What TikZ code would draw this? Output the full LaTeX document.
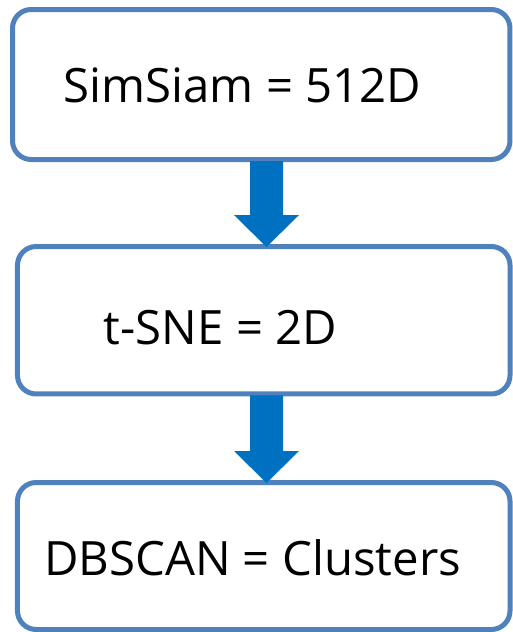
\documentclass[tikz,border=0pt]{standalone}
\usepackage{fontspec}
\setmainfont{Open Sans}
\usetikzlibrary{calc}

\definecolor{boxblue}{RGB}{79,129,189}
\definecolor{flowblue}{RGB}{0,112,192}

\tikzset{
  stage/.style={draw=boxblue, line width=3.75pt, fill=white, rounded corners=14pt,
                inner sep=0pt},
  lbl/.style={anchor=base, inner sep=0pt, font=\fontsize{35.5}{40}\selectfont},
  flow/.style={fill=flowblue}
}

\begin{document}
\begin{tikzpicture}[x=0.75pt, y=-0.75pt]
  \useasboundingbox (0,0) rectangle (512,632);
  % the three stages
  \node[stage, minimum width=373.1pt, minimum height=112.5pt] (b1) at (261.25,84.5) {};
  \node[stage, minimum width=369.4pt, minimum height=110.6pt] (b2) at (263.75,320.25) {};
  \node[stage, minimum width=369.4pt, minimum height=110.25pt] (b3) at (263.75,556) {};
  \node[lbl] (t1) at (242.5,102) {SimSiam = 512D};
  \node[lbl] (t2) at (220.5,344) {t-SNE = 2D};
  \node[lbl] (t3) at (252.5,575) {DBSCAN = Clusters};
  % block arrows between the stages
  \foreach \s/\e in {b1/b2, b2/b3}
    \fill[flow] ($(\e.north |- \s.south)+(-13.75,-1)$) -- ($(\e.north)+(-13.75,-29)$)
      -- ($(\e.north)+(-29.75,-29)$) -- ($(\e.north)+(2.75,3)$)
      -- ($(\e.north)+(35.25,-29)$) -- ($(\e.north)+(19.25,-29)$)
      -- ($(\e.north |- \s.south)+(19.25,-1)$) -- cycle;
\end{tikzpicture}
\end{document}
